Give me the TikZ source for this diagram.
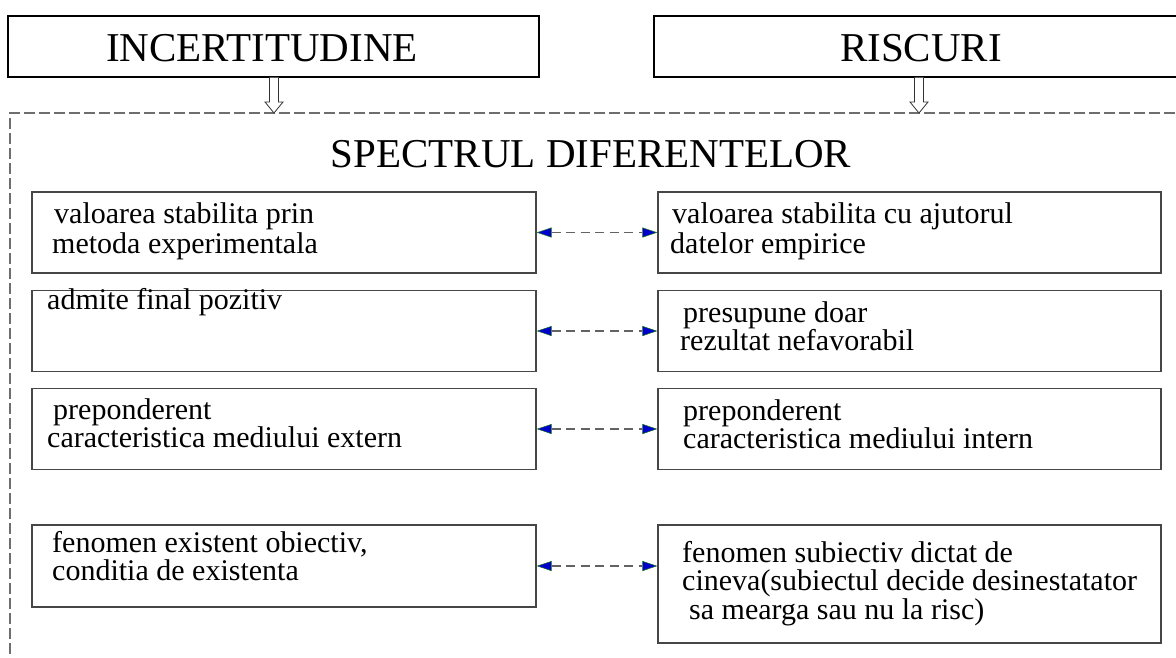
\documentclass[tikz,border=0pt]{standalone}
\usepackage{fontspec}
\setmainfont{Liberation Serif}
\usetikzlibrary{arrows.meta,calc}

\definecolor{framegray}{RGB}{110,110,110}
\definecolor{boxline}{RGB}{70,70,70}
\definecolor{tipblue}{RGB}{0,0,205}
\definecolor{tipgreen}{RGB}{20,120,20}

\newcommand\headfont{\fontsize{41}{41}\selectfont}
\newcommand\bodyfont{\fontsize{30}{27}\selectfont}
\newcommand\tstrut{\rule{0pt}{24pt}}

\begin{document}
\begin{tikzpicture}[x=1pt,y=-1pt,
  topbox/.style={draw=black, line width=1.2pt, rectangle, inner sep=0pt},
  itembox/.style={draw=boxline, line width=1.3pt, rectangle, inner sep=0pt},
  title/.style={inner sep=0pt, font=\headfont},
  label/.style={inner sep=0pt, anchor=north west, align=left, font=\bodyfont},
  bluetip/.tip={Triangle[length=15pt,width=10pt,fill=tipblue,color=tipgreen,line width=0.5pt]},
  pair/.style={draw=framegray!90!black, line width=1.1pt, dash pattern=on 9pt off 5.5pt,
    bluetip-bluetip},
  frame/.style={draw=framegray, line width=1.2pt, dash pattern=on 11pt off 4pt},
  hollow/.style={draw=black!80, line width=0.8pt, fill=white}
]
\useasboundingbox (0,0) rectangle (1176,657);

% dashed frame around the comparison
\coordinate (fTR) at (1190,113);
\coordinate (fTL) at (10,113);
\coordinate (fBL) at (10,670);
\draw[frame] (fTR) -- (fTL) -- (fBL);

% the two concepts
\node[topbox, minimum width=531pt, minimum height=61pt] (inc) at (273.5,46.5) {};
\node[title] (incT) at (262,48) {INCERTITUDINE};
\node[topbox, minimum width=540pt, minimum height=61pt] (ris) at (924,46.5) {};
\node[title] (risT) at (921,48) {RISCURI};

% hollow arrows down into the frame
\coordinate (a1) at ($(inc.south)+(0.5,0)$);
\coordinate (a1e) at (a1 |- fTL);
\coordinate (a2) at ($(ris.south)+(-5,0)$);
\coordinate (a2e) at (a2 |- fTL);
\foreach \s/\e in {a1/a1e, a2/a2e}{
  \draw[hollow] ($(\s)+(-4.5,0)$) -- ($(\e)+(-4.5,-11)$) -- ($(\e)+(-9,-11)$)
    -- (\e) -- ($(\e)+(9,-11)$) -- ($(\e)+(4.5,-11)$) -- ($(\s)+(4.5,0)$);
}

\node[title] (spec) at (591,154) {SPECTRUL DIFERENTELOR};

% left column
\node[itembox, minimum width=504pt, minimum height=81pt] (l1) at (284,232.5) {};
\node[itembox, minimum width=504pt, minimum height=81pt] (l2) at (284,331) {};
\node[itembox, minimum width=504pt, minimum height=81pt] (l3) at (284,429) {};
\node[itembox, minimum width=504pt, minimum height=82pt] (l4) at (284,566) {};

% right column
\node[itembox, minimum width=503pt, minimum height=81pt] (r1) at (909.5,232.5) {};
\node[itembox, minimum width=503pt, minimum height=81pt] (r2) at (909.5,331) {};
\node[itembox, minimum width=503pt, minimum height=81pt] (r3) at (909.5,429) {};
\node[itembox, minimum width=503pt, minimum height=118pt] (r4) at (909.5,584) {};

% texts
\node[label] (t1) at (54,199) {\tstrut valoarea stabilita prin\\[2pt]\hspace*{-2pt}metoda experimentala};
\node[label] (t2) at (47,285) {\tstrut admite final pozitiv};
\node[label] (t3) at (53,395) {\tstrut preponderent\\\hspace*{-6pt}caracteristica mediului extern};
\node[label] (t4) at (52,528) {\tstrut fenomen existent obiectiv,\\[1pt]conditia de existenta};

\node[label] (u1) at (672,199) {\tstrut valoarea stabilita cu ajutorul\\[2pt]\hspace*{-2pt}datelor empirice};
\node[label] (u2) at (683,298) {\tstrut presupune doar\\\hspace*{-3pt}rezultat nefavorabil};
\node[label] (u3) at (683,396) {\tstrut preponderent\\caracteristica mediului intern};
\node[label] (u4) at (682,538) {\tstrut fenomen subiectiv dictat de\\[1pt]cineva(subiectul decide desinestatator\\[1pt]\hspace*{7pt}sa mearga sau nu la risc)};

% paired differences
\draw[pair] (l1.east) -- (r1.west);
\draw[pair] (l2.east) -- (r2.west);
\draw[pair] (l3.east) -- (r3.west);
\draw[pair] (l4.east) -- (r4.west |- l4.east);
\end{tikzpicture}
\end{document}
